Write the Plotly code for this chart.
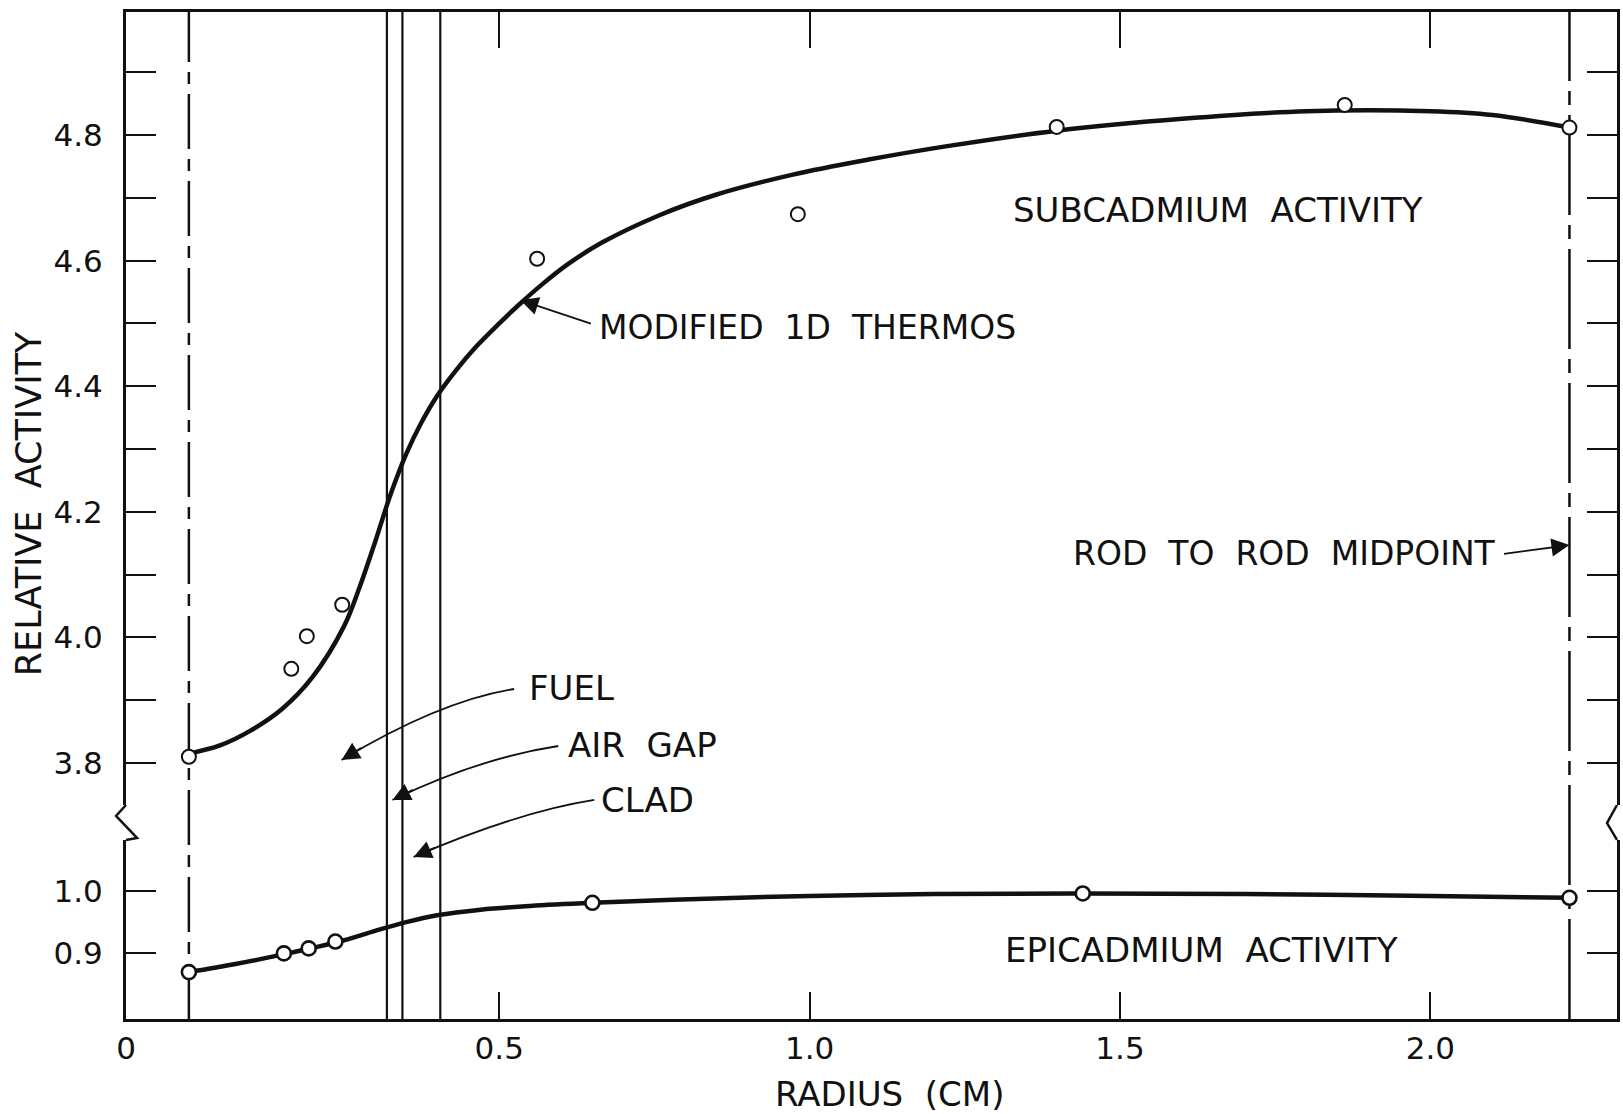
import plotly.graph_objects as go

# ---------------- data ----------------
# Subcadmium activity: measured points (radius cm, relative activity)
sub_r = [0.0, 0.165, 0.190, 0.247, 0.561, 0.981, 1.398, 1.862, 2.224]
sub_act = [3.810, 3.950, 4.002, 4.052, 4.603, 4.674, 4.813, 4.848, 4.812]

# Modified 1D THERMOS calculation (subcadmium curve)
thermos_r = [0.0, 0.05, 0.10, 0.15, 0.20, 0.25, 0.275, 0.30, 0.325, 0.35,
             0.375, 0.40, 0.43, 0.46, 0.50, 0.533, 0.57, 0.61, 0.664, 0.757,
             0.849, 0.973, 1.095, 1.219, 1.398, 1.60, 1.80, 2.00, 2.10, 2.224]
thermos_act = [3.815, 3.828, 3.852, 3.886, 3.938, 4.018, 4.080, 4.152, 4.228,
               4.292, 4.343, 4.385, 4.425, 4.460, 4.500, 4.531, 4.563, 4.594,
               4.628, 4.672, 4.705, 4.737, 4.761, 4.782, 4.807, 4.826, 4.838,
               4.838, 4.832, 4.812]

# Epicadmium activity: measured points
epi_r = [0.0, 0.153, 0.193, 0.236, 0.650, 1.44, 2.224]
epi_act = [0.870, 0.900, 0.908, 0.919, 0.981, 0.996, 0.989]

# Epicadmium fitted curve
epi_curve_r = [0.0, 0.075, 0.15, 0.20, 0.25, 0.30, 0.35, 0.40, 0.47, 0.55,
               0.65, 0.78, 1.0, 1.2, 1.44, 1.7, 2.0, 2.224]
epi_curve_act = [0.870, 0.883, 0.898, 0.909, 0.921, 0.936, 0.950, 0.961,
                 0.970, 0.976, 0.981, 0.986, 0.992, 0.995, 0.996, 0.995,
                 0.992, 0.989]

# Region boundaries (cm): fuel radius, air gap, clad outer radius
boundary_r = [0.319, 0.344, 0.405]
rod_center_r = 0.0
rod_midpoint_r = 2.224

x_tick_vals = [0.5, 1.0, 1.5, 2.0]
x_tick_text = ["0.5", "1.0", "1.5", "2.0"]
upper_tick_vals = [3.8, 4.0, 4.2, 4.4, 4.6, 4.8]
upper_tick_text = ["3.8", "4.0", "4.2", "4.4", "4.6", "4.8"]
upper_minor_vals = [3.9, 4.1, 4.3, 4.5, 4.7, 4.9]
lower_tick_vals = [0.9, 1.0]
lower_tick_text = ["0.9", "1.0"]

# ---------------- figure ----------------
FONT = "DejaVu Sans"
BLACK = "#111111"
X_MIN, X_MAX = -0.1013, 2.3006

fig = go.Figure()

# epicadmium (lower panel)
fig.add_trace(go.Scatter(x=epi_curve_r, y=epi_curve_act, mode="lines",
                         line=dict(color=BLACK, width=4.5, shape="spline", smoothing=1.0),
                         xaxis="x", yaxis="y", hoverinfo="skip", showlegend=False))
fig.add_trace(go.Scatter(x=epi_r, y=epi_act, mode="markers",
                         marker=dict(symbol="circle", size=14, color="white",
                                     line=dict(color=BLACK, width=2.6)),
                         xaxis="x", yaxis="y", showlegend=False))

# subcadmium (upper panel)
fig.add_trace(go.Scatter(x=thermos_r, y=thermos_act, mode="lines",
                         line=dict(color=BLACK, width=4.5, shape="spline", smoothing=1.0),
                         xaxis="x2", yaxis="y2", hoverinfo="skip", showlegend=False))
fig.add_trace(go.Scatter(x=sub_r, y=sub_act, mode="markers",
                         marker=dict(symbol="circle", size=14, color="white",
                                     line=dict(color=BLACK, width=2)),
                         xaxis="x2", yaxis="y2", showlegend=False))

axis_common = dict(showgrid=False, zeroline=False, showline=True, linecolor=BLACK,
                   linewidth=3, ticks="inside", tickcolor=BLACK, tickwidth=2.2,
                   tickfont=dict(family=FONT, size=31, color=BLACK))

fig.update_layout(
    width=1623, height=1114,
    margin=dict(l=126, r=3, t=12, b=95),
    paper_bgcolor="white", plot_bgcolor="white",
    showlegend=False,
    xaxis=dict(axis_common, range=[X_MIN, X_MAX], anchor="y", domain=[0, 1],
               tickvals=[X_MIN] + x_tick_vals, ticktext=["0"] + x_tick_text,
               ticklen=27, ticklabelstandoff=0),
    xaxis2=dict(axis_common, range=[X_MIN, X_MAX], anchor="y2", side="top",
                matches="x", tickvals=x_tick_vals, showticklabels=False, ticklen=36),
    yaxis=dict(axis_common, domain=[0, 0.1778], range=[0.795, 1.0816],
               tickvals=lower_tick_vals, ticktext=lower_tick_text,
               ticklen=30, mirror="ticks", ticklabelstandoff=14),
    yaxis2=dict(axis_common, domain=[0.2125, 1], range=[3.7331, 4.996],
                tickvals=upper_tick_vals, ticktext=upper_tick_text,
                ticklen=30, mirror="ticks", ticklabelstandoff=14,
                minor=dict(tickvals=upper_minor_vals, ticks="inside", ticklen=30,
                           tickwidth=2.2, tickcolor=BLACK)),
)

# vertical region boundaries
for r in boundary_r:
    fig.add_shape(type="line", xref="x", yref="paper", x0=r, x1=r, y0=0, y1=1,
                  line=dict(color=BLACK, width=2.2), layer="below")
# rod centre and rod-to-rod midpoint (dash-dot)
fig.add_shape(type="line", xref="x", yref="paper", x0=rod_center_r, x1=rod_center_r,
              y0=0, y1=1, line=dict(color=BLACK, width=2.5, dash="55px,10px,12px,10px"),
              layer="below")
fig.add_shape(type="line", xref="x", yref="paper", x0=rod_midpoint_r, x1=rod_midpoint_r,
              y0=0, y1=1, line=dict(color=BLACK, width=2.5, dash="100px,10px,14px,10px"),
              layer="below")

# axis break marks (left and right)
fig.add_shape(type="path", xref="paper", yref="paper",
              path="M 0,0.2125 L -0.0067,0.2016 L 0.0074,0.1798 L 0,0.1778",
              line=dict(color=BLACK, width=2.5))
fig.add_shape(type="path", xref="paper", yref="paper",
              path="M 1,0.2125 L 0.9933,0.1946 L 1,0.1778",
              line=dict(color=BLACK, width=2.5))

ann_font = dict(family=FONT, size=34, color=BLACK)

def label(text, x, y, yref, xanchor="left", size=34):
    fig.add_annotation(text=text, x=x, y=y, xref="x", yref=yref, showarrow=False,
                       xanchor=xanchor, yanchor="middle",
                       font=dict(family=FONT, size=size, color=BLACK))

label("SUBCADMIUM&nbsp;&nbsp;ACTIVITY", 1.658, 4.681, "y2", "center")
label("MODIFIED&nbsp;&nbsp;1D&nbsp;&nbsp;THERMOS", 0.658, 4.493, "y2", size=33)
label("ROD&nbsp;&nbsp;TO&nbsp;&nbsp;ROD&nbsp;&nbsp;MIDPOINT", 2.109, 4.133, "y2", "right", size=33)
label("FUEL", 0.545, 3.919, "y2")
label("AIR&nbsp;&nbsp;GAP", 0.608, 3.829, "y2")
label("CLAD", 0.661, 3.741, "y2")
label("EPICADMIUM&nbsp;&nbsp;ACTIVITY", 1.632, 0.906, "y", "center")

arrow_style = dict(showarrow=True, arrowhead=2, arrowsize=2.0, arrowwidth=1.8,
                   arrowcolor=BLACK, text="")

# straight arrows
fig.add_annotation(x=0.534, y=4.537, xref="x", yref="y2", ax=72, ay=24, **arrow_style)
fig.add_annotation(x=rod_midpoint_r, y=4.147, xref="x", yref="y2", ax=-67, ay=9, **arrow_style)

# curved arrows (fuel, air gap, clad)
curves = [
    ((0.524, 0.3277), (0.404, 0.3158), (0.246, 0.2572), (21, -13)),
    ((0.595, 0.2711), (0.468, 0.2592), (0.328, 0.2175), (22, -11)),
    ((0.653, 0.2175), (0.530, 0.2056), (0.362, 0.1609), (23, -10)),
]
for (tx, ty), (cx, cy), (hx, hy), (dx, dy) in curves:
    fig.add_shape(type="path", xref="x", yref="paper",
                  path=f"M {tx},{ty} Q {cx},{cy} {hx},{hy}",
                  line=dict(color=BLACK, width=1.8))
    fig.add_annotation(x=hx, y=hy, xref="x", yref="paper", ax=dx, ay=dy, **arrow_style)

# axis titles
fig.add_annotation(text="RELATIVE&nbsp;&nbsp;ACTIVITY", x=-0.0649, y=0.5114,
                   xref="paper", yref="paper", textangle=-90, showarrow=False,
                   xanchor="center", yanchor="middle",
                   font=dict(family=FONT, size=35, color=BLACK))
fig.add_annotation(text="RADIUS&nbsp;&nbsp;(CM)", x=0.512, y=-0.0745,
                   xref="paper", yref="paper", showarrow=False,
                   xanchor="center", yanchor="middle",
                   font=dict(family=FONT, size=34, color=BLACK))

fig.write_html("out.html")
